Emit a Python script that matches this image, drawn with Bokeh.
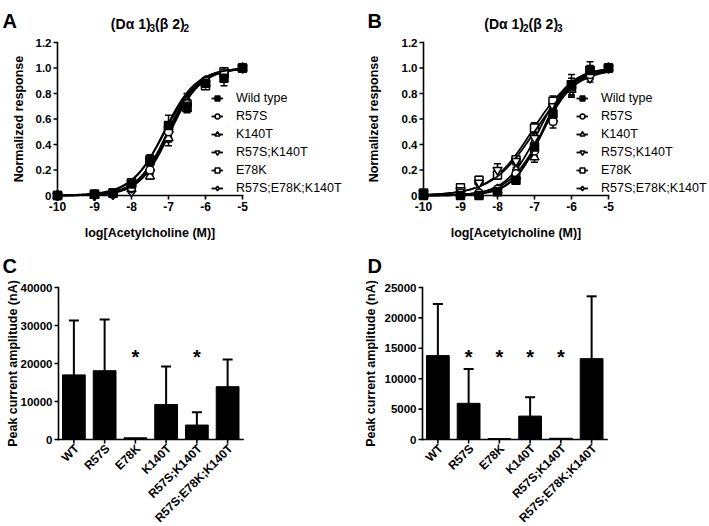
import math
import numpy as np
from bokeh.plotting import figure
from bokeh.models import (Range1d, ColumnDataSource, Whisker, TeeHead, Legend, LegendItem)
from bokeh.layouts import column, row
from bokeh.embed import file_html
from bokeh.resources import INLINE
from bokeh.core.properties import value

FONT = "Liberation Sans"

# ---------------- data: concentration-response ----------------
log_conc = [-10, -9, -8.5, -8, -7.5, -7, -6.5, -6, -5.5, -5]
series_names = ["Wild type", "R57S", "K140T", "R57S;K140T", "E78K", "R57S;E78K;K140T"]
markers = ["square", "circle", "triangle", "inverted_triangle", "square", "diamond"]
fills = ["black", "white", "white", "white", "white", "white"]

a_wt = [0.0, 0.01, 0.02, 0.09, 0.27, 0.55, 0.70, 0.88, 0.92, 1.0]
a_r57s = [0.0, 0.01, 0.01, 0.06, 0.20, 0.50, 0.72, 0.90, 0.96, 1.0]
a_k140t = [0.0, 0.0, 0.01, 0.05, 0.15, 0.45, 0.68, 0.88, 0.95, 1.0]
a_r57s_k140t = [0.0, 0.0, 0.01, 0.06, 0.18, 0.48, 0.70, 0.88, 0.95, 1.0]
a_e78k = [0.0, 0.01, 0.02, 0.10, 0.28, 0.52, 0.72, 0.86, 0.97, 1.0]
a_triple = [0.0, 0.0, 0.01, 0.03, 0.20, 0.45, 0.75, 0.90, 0.96, 1.0]

a_wt_err = [0.0, 0.0, 0.01, 0.02, 0.04, 0.08, 0.03, 0.02, 0.06, 0.0]
a_r57s_err = [0.0, 0.0, 0.0, 0.01, 0.02, 0.04, 0.03, 0.02, 0.02, 0.0]
a_k140t_err = [0.0, 0.0, 0.0, 0.01, 0.02, 0.06, 0.03, 0.02, 0.02, 0.0]
a_r57s_k140t_err = [0.0, 0.0, 0.0, 0.01, 0.02, 0.03, 0.03, 0.02, 0.02, 0.0]
a_e78k_err = [0.0, 0.0, 0.01, 0.02, 0.04, 0.03, 0.03, 0.02, 0.02, 0.0]
a_triple_err = [0.0, 0.0, 0.0, 0.01, 0.02, 0.03, 0.05, 0.02, 0.02, 0.0]

b_wt = [0.0, 0.0, 0.0, 0.03, 0.12, 0.38, 0.64, 0.86, 0.98, 1.0]
b_r57s = [0.01, 0.02, 0.02, 0.05, 0.17, 0.35, 0.58, 0.85, 0.95, 1.0]
b_k140t = [0.0, 0.01, 0.01, 0.04, 0.15, 0.30, 0.60, 0.83, 0.97, 1.0]
b_r57s_k140t = [0.02, 0.04, 0.10, 0.20, 0.27, 0.45, 0.70, 0.88, 0.99, 1.0]
b_e78k = [0.02, 0.06, 0.12, 0.16, 0.28, 0.53, 0.74, 0.86, 0.98, 1.0]
b_triple = [0.01, 0.01, 0.02, 0.05, 0.20, 0.42, 0.68, 0.82, 0.92, 1.0]

b_wt_err = [0.0, 0.0, 0.0, 0.01, 0.02, 0.04, 0.05, 0.09, 0.07, 0.0]
b_r57s_err = [0.0, 0.0, 0.0, 0.01, 0.02, 0.04, 0.05, 0.04, 0.03, 0.0]
b_k140t_err = [0.0, 0.0, 0.0, 0.01, 0.02, 0.04, 0.04, 0.04, 0.03, 0.0]
b_r57s_k140t_err = [0.0, 0.01, 0.02, 0.05, 0.03, 0.04, 0.04, 0.04, 0.03, 0.0]
b_e78k_err = [0.0, 0.01, 0.03, 0.03, 0.03, 0.04, 0.04, 0.04, 0.03, 0.0]
b_triple_err = [0.0, 0.0, 0.0, 0.01, 0.02, 0.04, 0.04, 0.04, 0.03, 0.0]

# fitted Hill parameters (logEC50, Hill slope)
a_logec50 = [-7.12, -7.02, -6.95, -6.98, -7.10, -6.98]
a_hill = [1.0, 1.05, 1.05, 1.0, 0.95, 1.1]
b_logec50 = [-6.80, -6.78, -6.78, -7.00, -7.08, -6.90]
b_hill = [1.1, 0.95, 1.05, 0.75, 0.78, 1.0]

x_ticks = [-10, -9, -8, -7, -6, -5]
y_ticks = [0, 0.2, 0.4, 0.6, 0.8, 1.0, 1.2]
y_tick_labels = ["0", "0.2", "0.4", "0.6", "0.8", "1.0", "1.2"]

# panel titles: (main, subscript) pieces
a_title = [("(D\u03b1 1)", False), ("3", True), ("(\u03b2 2)", False), ("2", True)]
b_title = [("(D\u03b1 1)", False), ("2", True), ("(\u03b2 2)", False), ("3", True)]

# ---------------- data: peak currents ----------------
cats = ["WT", "R57S", "E78K", "K140T", "R57S;K140T", "R57S;E78K;K140T"]
c_mean = [17000, 18100, 450, 9200, 3800, 13900]
c_sd = [14300, 13450, 0, 10000, 3400, 7150]
c_star = ["E78K", "R57S;K140T"]
c_star_level = 21600
d_mean = [13800, 5950, 150, 3850, 200, 13300]
d_sd = [8500, 5650, 0, 3100, 0, 10250]
d_star = ["R57S", "E78K", "K140T", "R57S;K140T"]
d_star_level = 13650
c_ticks = [0, 10000, 20000, 30000, 40000]
d_ticks = [0, 5000, 10000, 15000, 20000, 25000]

LW = 1.6
TICK = 4  # px

# approximate advance widths (em) of Liberation Sans Bold for title layout
ADV = {"(": 0.333, ")": 0.333, "D": 0.722, "\u03b1": 0.62, "\u03b2": 0.61, " ": 0.2,
       "1": 0.556, "2": 0.556, "3": 0.556}


def txt(p, x, y, s, size, style="bold", align="center", baseline="middle",
        xo=0, yo=0, angle=0.0):
    p.text(x=x, y=y, text=s, text_font=value(FONT), text_font_style=style,
           text_font_size=size, text_align=align, text_baseline=baseline,
           x_offset=xo, y_offset=yo, angle=angle, text_color="black")


def base_fig(width, height, x0, x1, y0, y1):
    p = figure(width=width, height=height, output_backend="svg", toolbar_location=None,
               x_range=Range1d(x0, x1), y_range=Range1d(y0, y1),
               min_border=0, min_border_left=0, min_border_right=0,
               min_border_top=0, min_border_bottom=0)
    p.axis.visible = False
    p.grid.visible = False
    p.outline_line_color = None
    p.background_fill_color = "white"
    p.border_fill_color = "white"
    return p


def draw_title(p, x, y, pieces, yo):
    main_px, sub_px = 14, 10
    widths = [sum(ADV.get(ch, 0.6) for ch in s) * (sub_px if sub else main_px)
              for s, sub in pieces]
    cur = -sum(widths) / 2.0
    for (s, sub), w in zip(pieces, widths):
        txt(p, [x], [y], [s], "%dpx" % (sub_px if sub else main_px), align="left",
            baseline="alphabetic", xo=cur, yo=yo + (4 if sub else 0))
        cur += w


def curve_panel(width, ax_px, data, errs, ec50s, hills, letter, letter_dx,
                title, title_x, legend_x, ylabel_dx):
    H = 245
    pxu_x = 37.0          # px per log unit
    pxu_y = 127.5         # px per response unit
    x0 = -10 - ax_px / pxu_x
    x1 = x0 + width / pxu_x
    y1 = 1.2 + 42 / pxu_y
    y0 = y1 - H / pxu_y
    p = base_fig(width, H, x0, x1, y0, y1)

    # axes
    p.segment(x0=[-10, -10], y0=[0, 0], x1=[x_ticks[-1], -10], y1=[0, y_ticks[-1]],
              line_color="black", line_width=LW, line_cap="square")
    p.segment(x0=x_ticks, y0=[0] * len(x_ticks), x1=x_ticks,
              y1=[-TICK / pxu_y] * len(x_ticks), line_color="black", line_width=LW)
    p.segment(x0=[-10] * len(y_ticks), y0=y_ticks, x1=[-10 - TICK / pxu_x] * len(y_ticks),
              y1=y_ticks, line_color="black", line_width=LW)
    txt(p, x_ticks, [0] * len(x_ticks), [str(t) for t in x_ticks], "12px",
        baseline="top", yo=6)
    txt(p, [-10] * len(y_ticks), y_ticks, y_tick_labels, "11.5px", align="right", xo=-6)
    txt(p, [-7.5], [0], ["log[Acetylcholine (M)]"], "12.5px", baseline="top", yo=30)
    txt(p, [-10], [0.6], ["Normalized response"], "12.5px", xo=ylabel_dx,
        angle=math.pi / 2)
    draw_title(p, title_x, 1.2, title, -19)
    txt(p, [-10], [1.2], [letter], "20px", align="left", baseline="alphabetic",
        xo=letter_dx, yo=-22)

    xs = np.linspace(-10, -5, 200)
    rend = {}
    for i in list(range(len(series_names)))[::-1]:
        ys = 1.0 / (1.0 + 10 ** ((ec50s[i] - xs) * hills[i]))
        lr = p.line(xs, ys, line_color="black", line_width=1.8)
        src = ColumnDataSource(dict(x=log_conc, y=data[i],
                                    lo=[v - e for v, e in zip(data[i], errs[i])],
                                    hi=[v + e for v, e in zip(data[i], errs[i])]))
        p.add_layout(Whisker(base="x", lower="lo", upper="hi", source=src,
                             dimension="height", line_color="black", line_width=1.5,
                             upper_head=TeeHead(size=7, line_width=1.5, line_color="black"),
                             lower_head=TeeHead(size=7, line_width=1.5, line_color="black")))
        sz = 8
        if "triangle" in markers[i]:
            sz = 9
        if markers[i] == "diamond":
            sz = 10
        sr = p.scatter("x", "y", source=src, marker=markers[i], size=sz,
                       fill_color=fills[i], line_color="black", line_width=1.5)
        rend[i] = [lr, sr]
    items = [LegendItem(label=series_names[i], renderers=rend[i])
             for i in range(len(series_names))]
    leg = Legend(items=items, location=(legend_x, 50), orientation="vertical",
                 glyph_width=12, glyph_height=14, label_height=14, spacing=4,
                 label_standoff=13, padding=0, margin=0, border_line_color=None,
                 background_fill_alpha=0, label_text_font=FONT,
                 label_text_font_size="12.5px", label_text_color="black")
    p.add_layout(leg, "center")
    return p


def bar_panel(width, ax_px, means, sds, stars, star_level, ymax, ticks, ylabel_dx,
              letter, letter_dx):
    H = 281
    n = len(cats)
    pxu_x = 184.5 / n
    pxu_y = 152.0 / ymax
    x0 = -ax_px / pxu_x
    x1 = x0 + width / pxu_x
    y1 = ymax + 42 / pxu_y
    y0 = y1 - H / pxu_y
    p = base_fig(width, H, x0, x1, y0, y1)
    pos = [i + 0.5 for i in range(n)]
    where = {c: i + 0.5 for i, c in enumerate(cats)}

    p.vbar(x=pos, top=means, width=0.74, fill_color="black", line_color="black")
    wsel = [i for i in range(n) if sds[i] > 0]
    wsrc = ColumnDataSource(dict(x=[pos[i] for i in wsel], lo=[means[i] for i in wsel],
                                 hi=[means[i] + sds[i] for i in wsel]))
    p.add_layout(Whisker(base="x", lower="lo", upper="hi", source=wsrc,
                         dimension="height", line_color="black", line_width=2,
                         upper_head=TeeHead(size=10, line_width=2, line_color="black"),
                         lower_head=None))
    txt(p, [where[c] for c in stars], [star_level] * len(stars), ["*"] * len(stars),
        "20px")

    # axes
    p.segment(x0=[0, 0], y0=[0, 0], x1=[n, 0], y1=[0, ticks[-1]],
              line_color="black", line_width=LW, line_cap="square")
    p.segment(x0=pos, y0=[0] * n, x1=pos, y1=[-TICK / pxu_y] * n,
              line_color="black", line_width=LW)
    p.segment(x0=[0] * len(ticks), y0=ticks, x1=[-TICK / pxu_x] * len(ticks), y1=ticks,
              line_color="black", line_width=LW)
    txt(p, [0] * len(ticks), ticks, [str(t) for t in ticks], "11.5px", align="right",
        xo=-6)
    txt(p, pos, [0] * n, cats, "12px", align="right", xo=3, yo=7, angle=math.pi / 4)
    txt(p, [0], [ticks[-1] / 2], ["Peak current amplitude (nA)"], "12.5px",
        xo=ylabel_dx, angle=math.pi / 2)
    txt(p, [0], [ymax], [letter], "20px", align="left", baseline="alphabetic",
        xo=letter_dx, yo=-22)
    return p


a_data = [a_wt, a_r57s, a_k140t, a_r57s_k140t, a_e78k, a_triple]
a_errs = [a_wt_err, a_r57s_err, a_k140t_err, a_r57s_k140t_err, a_e78k_err, a_triple_err]
b_data = [b_wt, b_r57s, b_k140t, b_r57s_k140t, b_e78k, b_triple]
b_errs = [b_wt_err, b_r57s_err, b_k140t_err, b_r57s_k140t_err, b_e78k_err, b_triple_err]

pA = curve_panel(355, 57, a_data, a_errs, a_logec50, a_hill, "A", -55,
                 a_title, -7.5, 211, -38.5)
pB = curve_panel(354, 68, b_data, b_errs, b_logec50, b_hill, "B", -56,
                 b_title, -7.3, 221, -49.5)
pC = bar_panel(355, 58, c_mean, c_sd, c_star, c_star_level, 40000, c_ticks, -45.5,
               "C", -56)
pD = bar_panel(354, 67, d_mean, d_sd, d_star, d_star_level, 25000, d_ticks, -52,
               "D", -55)

layout = column(row(pA, pB), row(pC, pD))
open("out.html", "w").write(file_html(layout, INLINE))
